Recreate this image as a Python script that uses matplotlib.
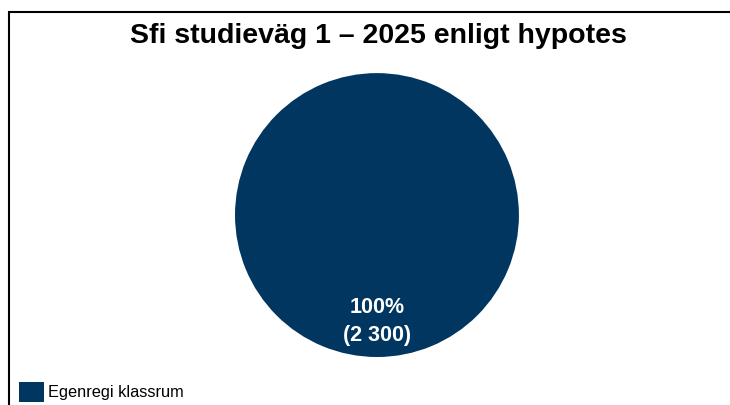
import matplotlib
matplotlib.use("Agg")
import matplotlib.pyplot as plt
import matplotlib.patches as mpatches

plt.rcParams['font.family'] = ['Liberation Sans', 'DejaVu Sans']

TITLE = 'Sfi studieväg 1 – 2025 enligt hypotes'
CATEGORIES = ['Egenregi klassrum']
VALUES = [2300]
COLORS = ['#003660']


def fmt_label(pct):
    total = sum(VALUES)
    n = int(round(pct * total / 100.0))
    n_str = f'{n:,}'.replace(',', ' ')
    return f'{pct:.0f}%\n({n_str})'


fig = plt.figure(figsize=(7.3, 4.05), dpi=100)

# outer frame (runs off the right/bottom edge like the reference)
frame = mpatches.Rectangle((9 / 730, -0.1), 1.2, 1 - 12 / 405 + 0.1,
                           transform=fig.transFigure, fill=False,
                           edgecolor='black', linewidth=1.5, clip_on=False)
fig.patches.append(frame)

fig.text(378 / 730, 1 - 36 / 405, TITLE, ha='center', va='center',
         fontsize=20.5, fontweight='bold')

ax = fig.add_axes([0.3219, 0.1185, 0.389, 0.701])
wedges, texts, autotexts = ax.pie(
    VALUES, colors=COLORS, startangle=90, counterclock=False,
    autopct=fmt_label, pctdistance=0.75,
    textprops=dict(color='white', fontsize=15.5, fontweight='bold',
                   linespacing=1.45),
)
ax.set_xlim(-1, 1)
ax.set_ylim(-1, 1)
ax.set_aspect('equal')
ax.axis('off')

fig.legend(wedges, CATEGORIES, loc='lower left',
           bbox_to_anchor=(19 / 730, 3 / 405), bbox_transform=fig.transFigure,
           frameon=False, fontsize=11.8, handlelength=1.5, handleheight=1.5,
           handletextpad=0.25, borderpad=0, borderaxespad=0)

fig.savefig('out.png', dpi=100)
